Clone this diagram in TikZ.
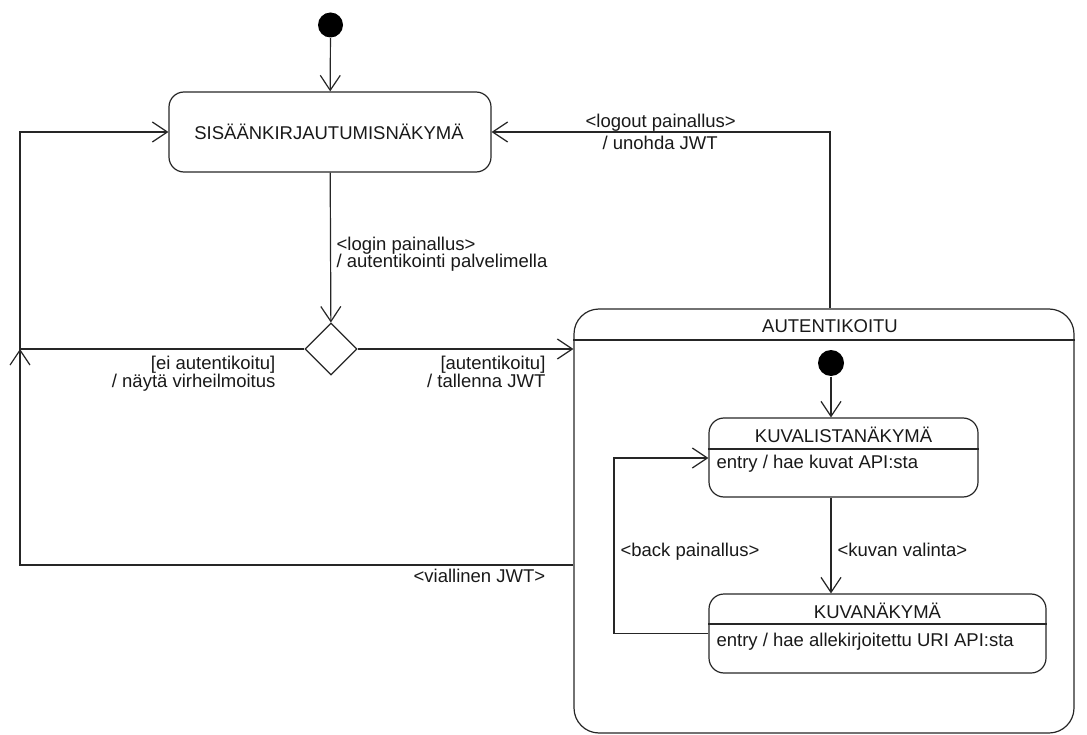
\documentclass[tikz,border=0pt]{standalone}
\usepackage{fontspec}
\setmainfont{Liberation Sans}
\usetikzlibrary{arrows.meta,shapes.geometric}

\tikzset{
  txt/.style={font=\fontsize{18.5}{21}\selectfont, inner sep=0pt, text=black!90},
  statebox/.style={draw, rectangle, rounded corners=15pt, inner sep=0pt},
  initdot/.style={circle, fill=black, inner sep=0pt, minimum size=25pt},
  choice/.style={draw, diamond, aspect=1, inner sep=0pt, minimum width=52pt, minimum height=52pt},
  flow/.style={draw, -{Straight Barb[length=15pt,width=20pt]}},
}

\begin{document}
\begin{tikzpicture}[x=1pt, y=-1pt, line width=1.2pt, black!85]
\useasboundingbox (0,0) rectangle (1087,735);

% top level states
\node[initdot] (i1) at (330.5,25) {};
\node[statebox, minimum width=322pt, minimum height=80pt] (login) at (330,132) {};
\node[txt, anchor=base] (logintitle) at (329,140) {SISÄÄNKIRJAUTUMISNÄKYMÄ};
\node[choice] (dec) at (331,349) {};

% composite state
\node[draw, rectangle, rounded corners=25pt, minimum width=500pt, minimum height=424pt, inner sep=0pt] (auth) at (824,521) {};
\draw (auth.west |- 0,340) -- (auth.east |- 0,340);
\node[txt, anchor=base] (authtitle) at (830,333) {AUTENTIKOITU};

% inner states
\node[initdot, minimum size=26pt] (i2) at (831,363) {};
\node[statebox, minimum width=269pt, minimum height=79pt] (kl) at (843.5,457.5) {};
\draw (kl.west |- 0,449) -- (kl.east |- 0,449);
\node[txt, anchor=base] (kltitle) at (843.5,442) {KUVALISTANÄKYMÄ};
\node[txt, anchor=base west] (klentry) at (716,468) {entry / hae kuvat API:sta};

\node[statebox, minimum width=337pt, minimum height=79pt] (kv) at (877.5,633.5) {};
\draw (kv.west |- 0,624) -- (kv.east |- 0,624);
\node[txt, anchor=base] (kvtitle) at (877.5,618) {KUVANÄKYMÄ};
\node[txt, anchor=base west] (kventry) at (716,646) {entry / hae allekirjoitettu URI API:sta};

% bend points
\coordinate (lt) at (20,132);
\coordinate (lb) at (20,565);
\coordinate (lo) at (830,132);
\coordinate (bk) at (614,458);

% transitions
\draw[flow] (i1) -- (login);
\draw[flow] (login) -- (dec);
\draw[flow] (dec.east) -- (dec.east -| auth.west);
\draw[flow] (dec.west) -| (lt) -- (login.west);
\draw[flow] (auth.west |- lb) -- (lb) -- (lb |- dec.west);
\draw[flow] (lo |- auth.north) -- (lo) -- (login.east);
\draw[flow] (i2) -- (i2 |- kl.north);
\draw[flow] (i2 |- kl.south) -- (i2 |- kv.north);
\draw[flow] (kv.west) -| (bk) -- (bk -| kl.west);

% transition labels
\node[txt, anchor=base west] (lga) at (336,251) {<login painallus>};
\node[txt, anchor=base west] (lgb) at (336,268) {/ autentikointi palvelimella};
\node[txt, anchor=base east] (eia) at (276,370) {[ei autentikoitu]};
\node[txt, anchor=base east] (eib) at (276,387) {/ näytä virheilmoitus};
\node[txt, anchor=base east] (oka) at (546,370) {[autentikoitu]};
\node[txt, anchor=base east] (okb) at (546,387) {/ tallenna JWT};
\node[txt, anchor=base west] (loa) at (585,128) {<logout painallus>};
\node[txt, anchor=base west] (lob) at (602,150) {/ unohda JWT};
\node[txt, anchor=base west] (via) at (413,582) {<viallinen JWT>};
\node[txt, anchor=base west] (kva) at (837,556) {<kuvan valinta>};
\node[txt, anchor=base west] (bka) at (620,556) {<back painallus>};
\end{tikzpicture}
\end{document}
